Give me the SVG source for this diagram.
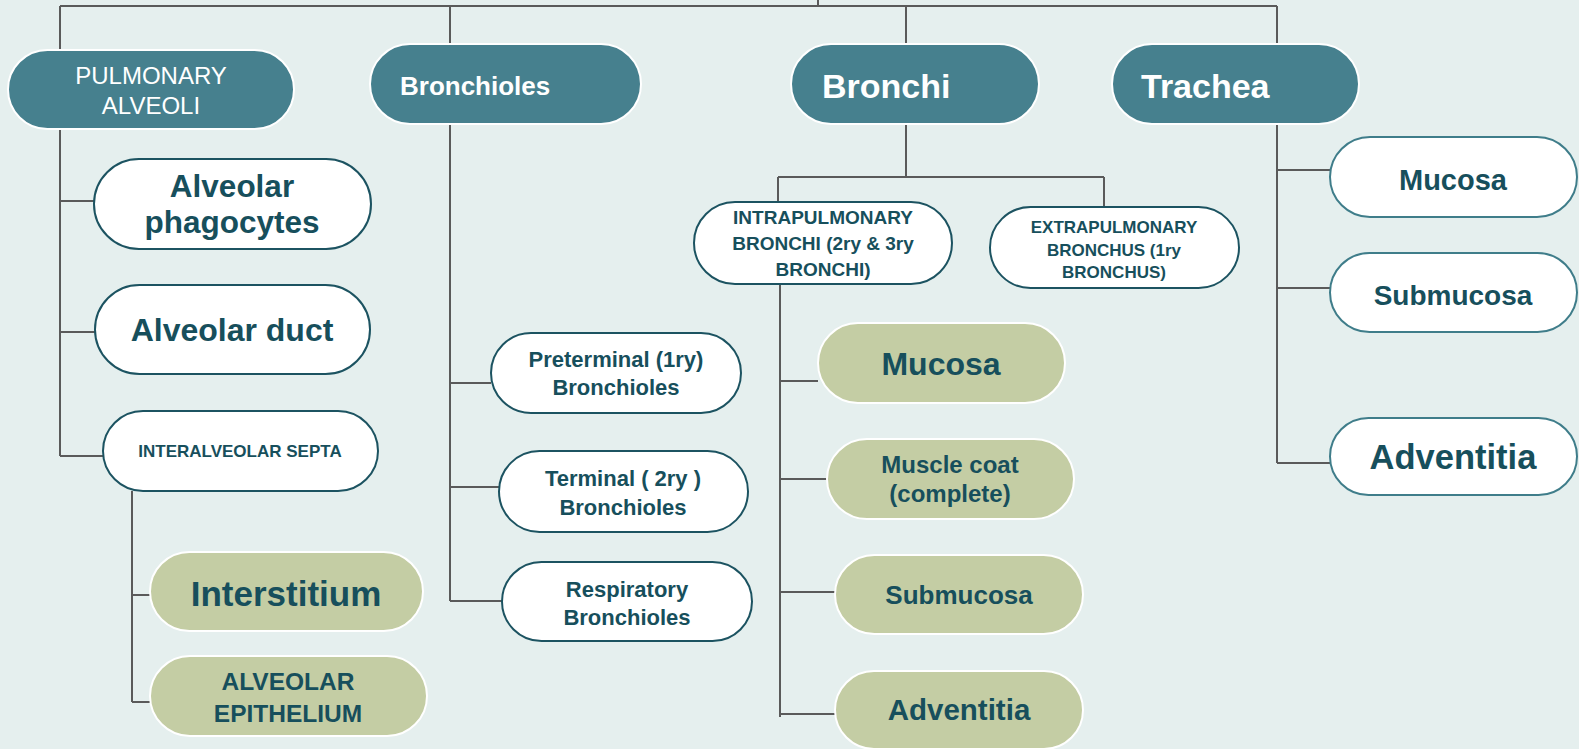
<svg xmlns="http://www.w3.org/2000/svg" width="1579" height="749" viewBox="0 0 1579 749">
<style>
.bg{fill:#E5EFEE}
.hdr rect{fill:#46808E;stroke:#FFFFFF;stroke-width:2}
.hdr text{fill:#FFFFFF;font-family:"Liberation Sans",Arial,sans-serif}
.wn rect{fill:#FFFFFF;stroke:#1C5361;stroke-width:2}
.wt rect{fill:#FFFFFF;stroke:#3F7D8A;stroke-width:2}
.gn rect{fill:#C4CDA4;stroke:#FFFFFF;stroke-width:2}
.wn text,.wt text,.gn text{fill:#174F5C;font-family:"Liberation Sans",Arial,sans-serif;text-anchor:middle;font-weight:bold}
#connectors path{fill:none;stroke:#5A5A5A;stroke-width:2}
</style>
<rect class="bg" x="0" y="0" width="1579" height="749"/>
<g id="connectors">
<path d="M818 0V6M60 6H1277M60 6V50M450 6V44M906 6V44M1277 6V44"/>
<path d="M60 129V456M60 201H94M60 332H95M60 456H103"/>
<path d="M132 491V702M132 595H150M132 702H150"/>
<path d="M450 124V601M450 383H491M450 487H499M450 601H502"/>
<path d="M906 124V177M778 177H1104M778 177V202M1104 177V207"/>
<path d="M780 284V717M780 381H818M780 479H827M780 592H835M780 714H835"/>
<path d="M1277 124V463M1277 170H1330M1277 288H1330M1277 463H1330"/>
</g>
<g id="pulmonary-alveoli" class="hdr"><rect x="8" y="50" width="286" height="79" rx="39.5"/><text x="151" y="84" font-size="24" text-anchor="middle">PULMONARY</text><text x="151" y="114" font-size="24" text-anchor="middle">ALVEOLI</text></g>
<g id="bronchioles" class="hdr"><rect x="370" y="44" width="271" height="80" rx="40"/><text x="400" y="95" font-size="26" font-weight="bold">Bronchioles</text></g>
<g id="bronchi" class="hdr"><rect x="791" y="44" width="248" height="80" rx="40"/><text x="822" y="98" font-size="34" font-weight="bold">Bronchi</text></g>
<g id="trachea" class="hdr"><rect x="1112" y="44" width="247" height="80" rx="40"/><text x="1141" y="98" font-size="34" font-weight="bold">Trachea</text></g>
<g id="alveolar-phagocytes" class="wn"><rect x="94" y="159" width="277" height="90" rx="45"/><text x="232" y="197" font-size="31.5">Alveolar</text><text x="232" y="233" font-size="31.5">phagocytes</text></g>
<g id="alveolar-duct" class="wn"><rect x="95" y="285" width="275" height="89" rx="44.5"/><text x="232" y="341" font-size="32">Alveolar duct</text></g>
<g id="interalveolar-septa" class="wn"><rect x="103" y="411" width="275" height="80" rx="40"/><text x="240" y="457" font-size="17" font-weight="normal">INTERALVEOLAR SEPTA</text></g>
<g id="interstitium" class="gn"><rect x="150" y="552" width="273" height="79" rx="39.5"/><text x="286" y="606" font-size="35">Interstitium</text></g>
<g id="alveolar-epithelium" class="gn"><rect x="150" y="656" width="277" height="80" rx="40"/><text x="288" y="690" font-size="24.5" font-weight="normal">ALVEOLAR</text><text x="288" y="722" font-size="24.5" font-weight="normal">EPITHELIUM</text></g>
<g id="preterminal" class="wn"><rect x="491" y="333" width="250" height="80" rx="40"/><text x="616" y="367" font-size="22">Preterminal (1ry)</text><text x="616" y="395" font-size="22">Bronchioles</text></g>
<g id="terminal" class="wn"><rect x="499" y="451" width="249" height="81" rx="40.5"/><text x="623" y="486" font-size="22">Terminal ( 2ry )</text><text x="623" y="515" font-size="22">Bronchioles</text></g>
<g id="respiratory" class="wn"><rect x="502" y="562" width="250" height="79" rx="39.5"/><text x="627" y="597" font-size="22">Respiratory</text><text x="627" y="625" font-size="22">Bronchioles</text></g>
<g id="intrapulmonary" class="wn"><rect x="694" y="202" width="258" height="82" rx="41"/><text x="823" y="224" font-size="19" font-weight="normal">INTRAPULMONARY</text><text x="823" y="250" font-size="19" font-weight="normal">BRONCHI (2ry &amp; 3ry</text><text x="823" y="276" font-size="19" font-weight="normal">BRONCHI)</text></g>
<g id="extrapulmonary" class="wn"><rect x="990" y="207" width="249" height="81" rx="40.5"/><text x="1114" y="233" font-size="17" font-weight="normal">EXTRAPULMONARY</text><text x="1114" y="256" font-size="17" font-weight="normal">BRONCHUS (1ry</text><text x="1114" y="278" font-size="17" font-weight="normal">BRONCHUS)</text></g>
<g id="bronchi-mucosa" class="gn"><rect x="818" y="323" width="247" height="80" rx="40"/><text x="941" y="375" font-size="32">Mucosa</text></g>
<g id="bronchi-muscle-coat" class="gn"><rect x="827" y="439" width="247" height="80" rx="40"/><text x="950" y="473" font-size="24">Muscle coat</text><text x="950" y="502" font-size="24">(complete)</text></g>
<g id="bronchi-submucosa" class="gn"><rect x="835" y="555" width="248" height="79" rx="39.5"/><text x="959" y="604" font-size="26">Submucosa</text></g>
<g id="bronchi-adventitia" class="gn"><rect x="835" y="671" width="248" height="78" rx="39"/><text x="959" y="720" font-size="29.5">Adventitia</text></g>
<g id="trachea-mucosa" class="wt"><rect x="1330" y="137" width="247" height="80" rx="40"/><text x="1453" y="190" font-size="29">Mucosa</text></g>
<g id="trachea-submucosa" class="wt"><rect x="1330" y="253" width="247" height="79" rx="39.5"/><text x="1453" y="305" font-size="28">Submucosa</text></g>
<g id="trachea-adventitia" class="wt"><rect x="1330" y="418" width="247" height="77" rx="38.5"/><text x="1453" y="469" font-size="34.5">Adventitia</text></g>
</svg>
